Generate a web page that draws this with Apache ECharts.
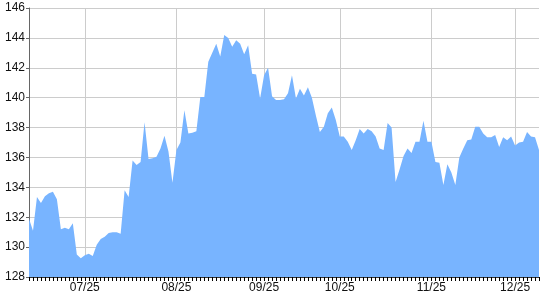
<!DOCTYPE html>
<html>
<head>
<meta charset="utf-8">
<script src="https://cdn.jsdelivr.net/npm/echarts@6/dist/echarts.min.js"></script>
<style>html,body{margin:0;padding:0;background:#fff}#c{width:540px;height:300px}</style>
</head>
<body>
<div id="c"></div>
<script>
var values = [
131.9,131.1,133.35,132.95,133.4,133.6,133.7,133.2,131.2,131.3,
131.2,131.6,129.5,129.25,129.45,129.55,129.4,130.15,130.55,130.7,
130.95,131.0,131.0,130.9,133.8,133.35,135.8,135.5,135.7,138.35,
135.9,135.95,136.05,136.6,137.45,136.4,134.3,136.5,137.0,139.15,
137.6,137.65,137.75,140.05,140.05,142.4,143.0,143.6,142.75,144.2,
144.0,143.4,143.85,143.6,142.9,143.5,141.6,141.55,139.95,141.5,
142.0,140.1,139.85,139.85,139.9,140.3,141.5,139.95,140.6,140.15,
140.7,140.0,138.8,137.7,138.05,138.95,139.35,138.5,137.4,137.4,
137.05,136.5,137.15,137.9,137.6,137.9,137.75,137.4,136.6,136.5,
138.3,138.0,134.35,135.2,136.1,136.6,136.3,137.05,137.05,138.45,
137.05,137.05,135.7,135.65,134.15,135.55,135.0,134.15,136.0,136.6,
137.15,137.2,138.05,138.05,137.6,137.35,137.35,137.5,136.7,137.35,
137.15,137.4,136.8,137.0,137.05,137.7,137.4,137.35,136.5
];
var tickLabels = ["07/25","08/25","09/25","10/25","11/25","12/25"];
var labelIdx = [14,37,59,78,101,122];
var categories = values.map(function(v,i){return String(i);});

function isLabel(i){return labelIdx.indexOf(i) >= 0;}

var chart = echarts.init(document.getElementById('c'), null, {renderer:'canvas'});
chart.setOption({
  animation:false,
  grid:{left:29,right:1,top:8,bottom:23,containLabel:false},
  xAxis:{
    type:'category',
    data:categories,
    boundaryGap:false,
    axisLine:{show:true,lineStyle:{color:'#333',width:1}},
    axisTick:{show:true,interval:0,length:4,lineStyle:{color:'#000'}},
    axisLabel:{
      interval:function(i){return isLabel(i);},
      formatter:function(v,i){var k=labelIdx.indexOf(Number(v));return k>=0?tickLabels[k]:'';},
      fontFamily:'Liberation Sans',fontSize:12,color:'#111',margin:5
    },
    splitLine:{show:true,interval:function(i){return isLabel(i);},lineStyle:{color:'#cccccc',width:1}}
  },
  yAxis:{
    type:'value',min:128,max:146,interval:2,
    axisLine:{show:true,lineStyle:{color:'#666',width:1}},
    axisTick:{show:true,length:3,lineStyle:{color:'#666'}},
    axisLabel:{fontFamily:'Liberation Sans',fontSize:12,color:'#111',margin:4},
    splitLine:{show:true,lineStyle:{color:'#cccccc',width:1}}
  },
  series:[{
    type:'line',
    data:values,
    symbol:'none',
    smooth:false,
    lineStyle:{width:0,color:'#78b4ff'},
    areaStyle:{color:'#78b4ff',opacity:1},
    itemStyle:{color:'#78b4ff'}
  }]
});
</script>
</body>
</html>
